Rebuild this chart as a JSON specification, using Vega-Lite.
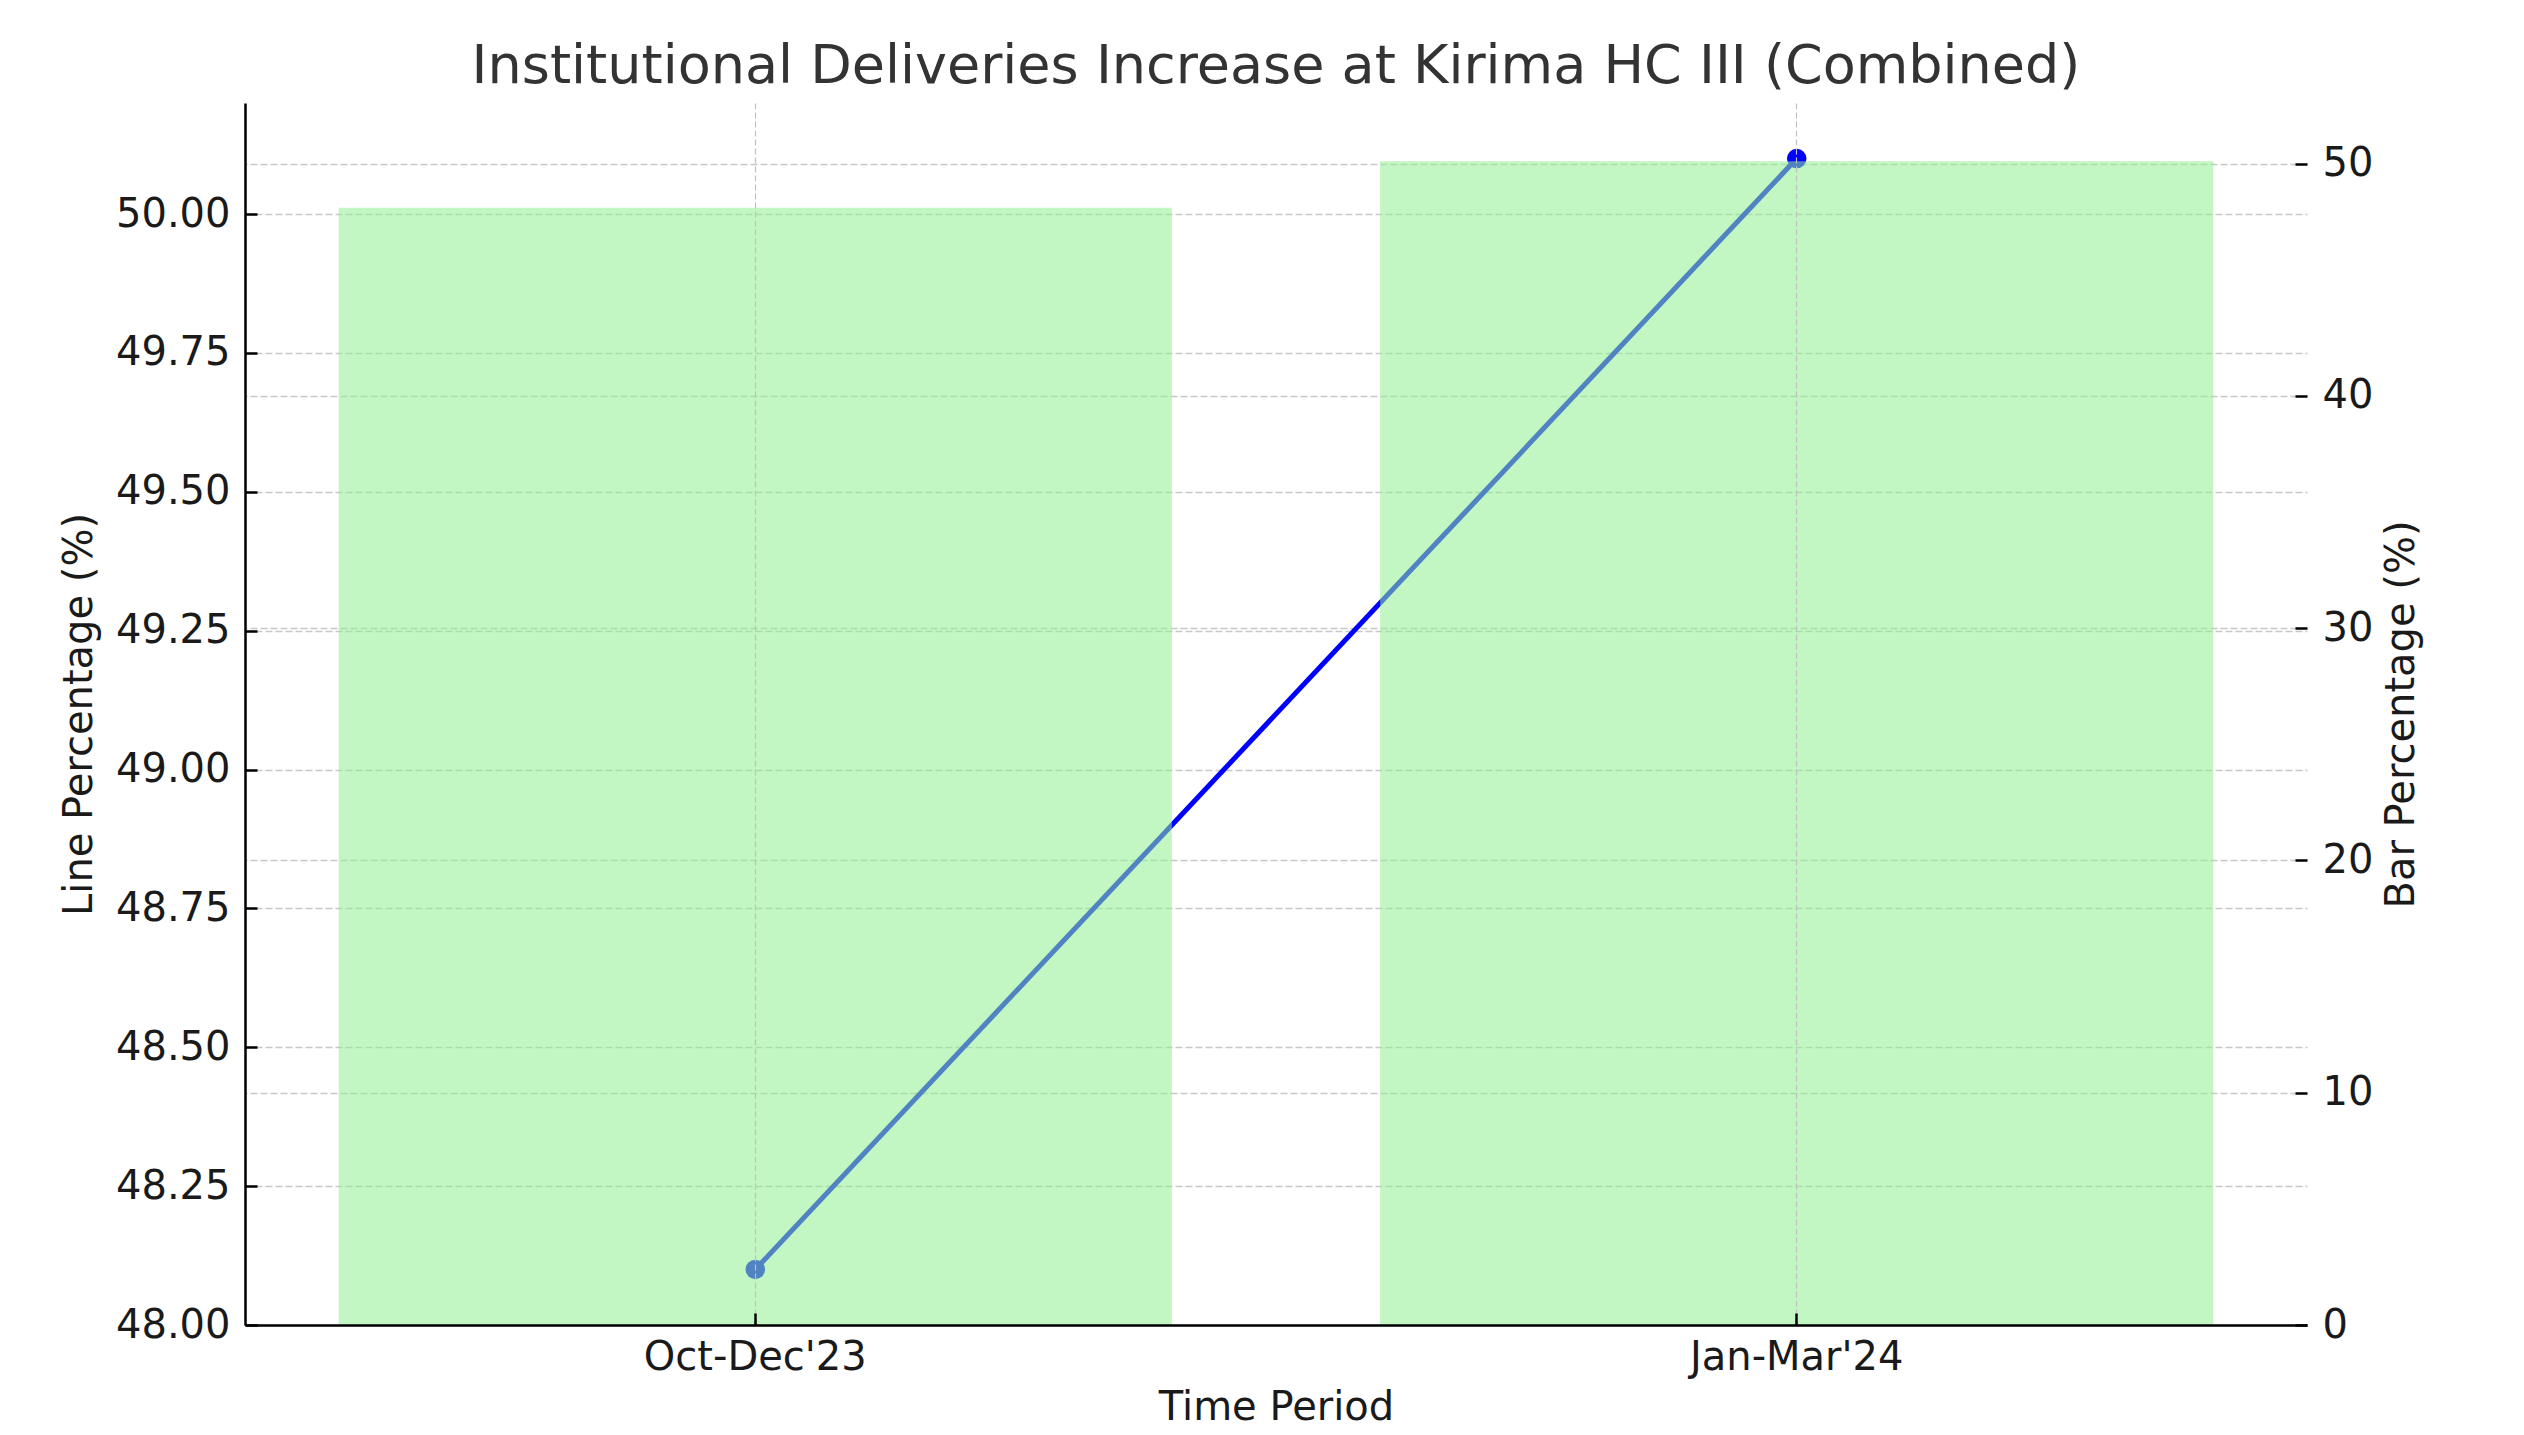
{
  "$schema": "https://vega.github.io/schema/vega-lite/v6.json",
  "width": 2062,
  "height": 1222,
  "autosize": {"type": "none"},
  "padding": {"left": 245, "top": 103, "right": 217, "bottom": 110},
  "background": "white",
  "config": {
    "view": {"stroke": null},
    "font": "DejaVu Sans",
    "axis": {
      "labelFont": "DejaVu Sans",
      "titleFont": "DejaVu Sans",
      "labelFontSize": 40,
      "titleFontSize": 40,
      "labelColor": "#1a1a1a",
      "titleColor": "#1a1a1a",
      "titleFontWeight": "normal",
      "labelLimit": 0,
      "tickColor": "#000000",
      "tickWidth": 2.5,
      "tickSize": -12,
      "domainColor": "#000000",
      "domainWidth": 2.5,
      "gridColor": "#c8c8c8",
      "gridDash": [7, 3],
      "gridWidth": 1.5
    }
  },
  "title": {
    "text": "Institutional Deliveries Increase at Kirima HC III (Combined)",
    "fontSize": 54,
    "font": "DejaVu Sans",
    "fontWeight": "normal",
    "color": "#333333",
    "anchor": "middle",
    "offset": 9
  },
  "data": {
    "values": [
      {"period": "Oct-Dec'23", "line": 48.1, "bar": 48.1},
      {"period": "Jan-Mar'24", "line": 50.1, "bar": 50.1}
    ]
  },
  "encoding": {
    "x": {
      "field": "period",
      "type": "nominal",
      "sort": null,
      "scale": {"paddingInner": 0.2, "paddingOuter": 0.09},
      "axis": {
        "title": "Time Period",
        "labelAngle": 0,
        "labelPadding": 24,
        "titlePadding": 10,
        "grid": true,
        "gridDash": [6, 3],
        "gridWidth": 1.2,
        "gridColor": "#c0c0c0",
        "zindex": 1
      }
    }
  },
  "layer": [
    {
      "encoding": {
        "y": {
          "field": "line",
          "type": "quantitative",
          "scale": {"domain": [48.0, 50.2], "nice": false, "zero": false},
          "axis": {
            "title": "Line Percentage (%)",
            "values": [48.0, 48.25, 48.5, 48.75, 49.0, 49.25, 49.5, 49.75, 50.0],
            "format": ".2f",
            "labelPadding": 27,
            "titlePadding": 16,
            "grid": true
          }
        }
      },
      "layer": [
        {"mark": {"type": "line", "color": "#0000ff", "strokeWidth": 5}},
        {"mark": {"type": "circle", "color": "#0000ff", "size": 380, "opacity": 1}}
      ]
    },
    {
      "mark": {"type": "bar", "color": "#90ee90", "opacity": 0.55},
      "encoding": {
        "y": {
          "field": "bar",
          "type": "quantitative",
          "scale": {"domain": [0, 52.605], "nice": false},
          "axis": {
            "title": "Bar Percentage (%)",
            "orient": "right",
            "values": [0, 10, 20, 30, 40, 50],
            "domain": false,
            "labelPadding": 27,
            "titlePadding": 49,
            "titleAngle": 270,
            "grid": true
          }
        }
      }
    }
  ],
  "resolve": {"scale": {"y": "independent"}}
}
